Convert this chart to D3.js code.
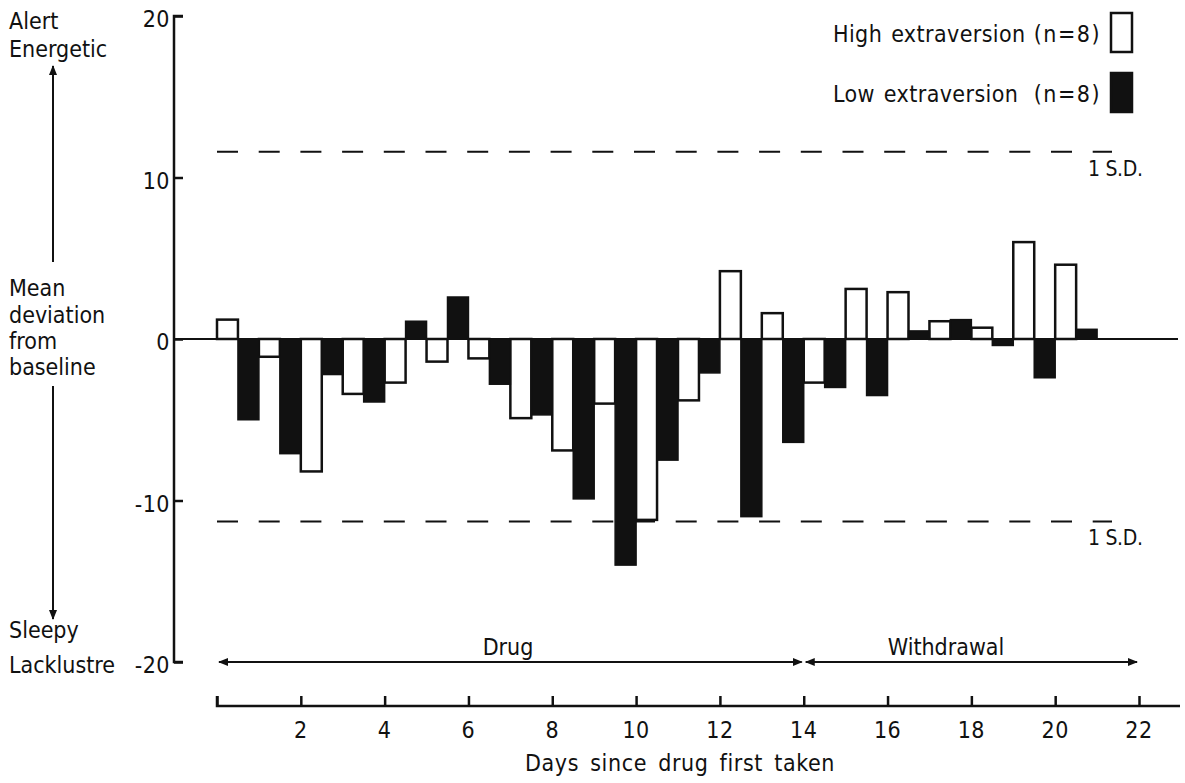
<!DOCTYPE html>
<html>
<head>
<meta charset="utf-8">
<script src="https://cdn.jsdelivr.net/npm/d3@7"></script>
<style>
  body { margin: 0; background: #fff; }
  svg text { font-family: "DejaVu Sans Condensed", "Liberation Sans Narrow", sans-serif; fill: #111; }
</style>
</head>
<body>
<div id="chart"></div>
<script>
// data
let days = d3.range(1, 22);
let highExtra = [1.2, -1.1, -8.2, -3.4, -2.7, -1.4, -1.2, -4.9, -6.9, -4.0, -11.2, -3.8, 4.2, 1.6, -2.7, 3.1, 2.9, 1.1, 0.7, 6.0, 4.6];
let lowExtra = [-5.0, -7.1, -2.2, -3.9, 1.1, 2.6, -2.8, -4.7, -9.9, -14.0, -7.5, -2.1, -11.0, -6.4, -3.0, -3.5, 0.5, 1.2, -0.4, -2.4, 0.6];
let sdLines = [11.6, -11.3];
let xTicks = [0, 2, 4, 6, 8, 10, 12, 14, 16, 18, 20, 22];
let yTicks = [20, 10, 0, -10, -20];
let phases = [{label: "Drug", from: 0, to: 14}, {label: "Withdrawal", from: 14, to: 22}];

let w = 1185, h = 783;
let fs = 23;

let svg = d3.select("#chart").append("svg")
    .attr("width", w).attr("height", h)
    .attr("viewBox", `0 0 ${w} ${h}`);

let defs = svg.append("defs");
defs.append("marker").attr("id", "arr")
    .attr("viewBox", "0 0 10 10").attr("refX", 9).attr("refY", 5)
    .attr("markerWidth", 10).attr("markerHeight", 10)
    .attr("markerUnits", "userSpaceOnUse")
    .attr("orient", "auto-start-reverse")
  .append("path").attr("d", "M0,1 L10,5 L0,9 Z").attr("fill", "#111");

let x = d3.scaleLinear().domain([0, 22]).range([217, 1139]);
let y = d3.scaleLinear().domain([-20, 20]).range([662, 16]);

// y axis, ticks pointing inwards
let yAxis = d3.axisRight(y).tickValues(yTicks).tickSize(9).tickFormat("");
let gy = svg.append("g").attr("transform", `translate(174,0)`).call(yAxis);
gy.select(".domain").attr("d", `M9,${y(20)}H0V${y(-20)}H9`).attr("stroke", "#111").attr("stroke-width", 2.5).attr("fill", "none");
gy.selectAll(".tick line").attr("stroke", "#111").attr("stroke-width", 2.5);
svg.append("g").selectAll("text").data(yTicks).enter().append("text")
    .attr("x", 170).attr("y", d => y(d) + 3).attr("dy", "0.35em")
    .attr("text-anchor", "end").attr("font-size", fs).attr("letter-spacing", 0.5)
    .text(d => d < 0 ? "-" + Math.abs(d) : d);

// 1 S.D. dashed lines
sdLines.forEach(v => {
  svg.append("line").attr("x1", x(0)).attr("x2", 1112)
      .attr("y1", y(v)).attr("y2", y(v))
      .attr("stroke", "#111").attr("stroke-width", 2)
      .attr("stroke-dasharray", "21,20.7");
  svg.append("text").attr("x", 1088).attr("y", y(v) + 24)
      .attr("font-size", 21).attr("letter-spacing", -0.3).text("1 S.D.");
});

// bars
let half = (x(1) - x(0)) / 2;
svg.append("g").selectAll("rect").data(days).enter().append("rect")
    .attr("x", (d, i) => x(d - 1))
    .attr("width", half)
    .attr("y", (d, i) => y(Math.max(0, highExtra[i])))
    .attr("height", (d, i) => Math.abs(y(highExtra[i]) - y(0)))
    .attr("fill", "#fff").attr("stroke", "#111").attr("stroke-width", 2.5);
svg.append("g").selectAll("rect").data(days).enter().append("rect")
    .attr("x", (d, i) => x(d - 0.5))
    .attr("width", half)
    .attr("y", (d, i) => y(Math.max(0, lowExtra[i])))
    .attr("height", (d, i) => Math.abs(y(lowExtra[i]) - y(0)))
    .attr("fill", "#111").attr("stroke", "#111").attr("stroke-width", 1.5);

// baseline
svg.append("line").attr("x1", 174).attr("x2", 1178)
    .attr("y1", y(0)).attr("y2", y(0))
    .attr("stroke", "#111").attr("stroke-width", 2);

// drug / withdrawal arrows
phases.forEach(p => {
  svg.append("line").attr("x1", x(p.from) + 2).attr("x2", x(p.to) - 2)
      .attr("y1", 662).attr("y2", 662)
      .attr("stroke", "#111").attr("stroke-width", 2)
      .attr("marker-start", "url(#arr)").attr("marker-end", "url(#arr)");
  svg.append("text").attr("x", p.label == "Drug" ? 508 : 946).attr("y", 655)
      .attr("text-anchor", "middle").attr("font-size", fs)
      .text(p.label);
});

// bottom axis
let xAxis = d3.axisTop(x).tickValues(xTicks).tickSize(10).tickFormat("");
let gx = svg.append("g").attr("transform", "translate(0,706)").call(xAxis);
gx.select(".domain").attr("d", `M${x(0)},-10V0H1180`).attr("stroke", "#111").attr("stroke-width", 2.5).attr("fill", "none");
gx.selectAll(".tick line").attr("stroke", "#111").attr("stroke-width", 2.5);
svg.append("g").selectAll("text").data(xTicks.filter(d => d > 0)).enter().append("text")
    .attr("x", d => x(d)).attr("y", 738)
    .attr("text-anchor", "middle").attr("font-size", fs).attr("letter-spacing", 0.5)
    .text(d => d);
svg.append("text").attr("x", 680).attr("y", 771)
    .attr("text-anchor", "middle").attr("font-size", fs).attr("letter-spacing", 0.6)
    .attr("word-spacing", 4)
    .text("Days since drug first taken");

// left side labels
let leftLabels = [["Alert", 29], ["Energetic", 57], ["Mean", 296], ["deviation", 323], ["from", 349], ["baseline", 375], ["Sleepy", 638], ["Lacklustre", 673]];
svg.append("g").selectAll("text").data(leftLabels).enter().append("text")
    .attr("x", 9).attr("y", d => d[1]).attr("font-size", fs)
    .text(d => d[0]);
svg.append("line").attr("x1", 53).attr("x2", 53).attr("y1", 262).attr("y2", 66)
    .attr("stroke", "#111").attr("stroke-width", 2).attr("marker-end", "url(#arr)");
svg.append("line").attr("x1", 53).attr("x2", 53).attr("y1", 386).attr("y2", 619)
    .attr("stroke", "#111").attr("stroke-width", 2).attr("marker-end", "url(#arr)");

// legend
let legend = [{label: "High extraversion", n: "(n=8)", fill: "#fff", ty: 42, by: 13}, {label: "Low extraversion", n: "(n=8)", fill: "#111", ty: 102, by: 73}];
legend.forEach(l => {
  svg.append("text").attr("x", 833).attr("y", l.ty).attr("font-size", fs).attr("letter-spacing", 0.4).attr("word-spacing", 2).text(l.label);
  svg.append("text").attr("x", 1101).attr("y", l.ty).attr("text-anchor", "end").attr("font-size", fs).attr("letter-spacing", 1.5).text(l.n);
  svg.append("rect").attr("x", 1111).attr("y", l.by).attr("width", 21).attr("height", 39)
      .attr("fill", l.fill).attr("stroke", "#111").attr("stroke-width", 2.5);
});
</script>
</body>
</html>
